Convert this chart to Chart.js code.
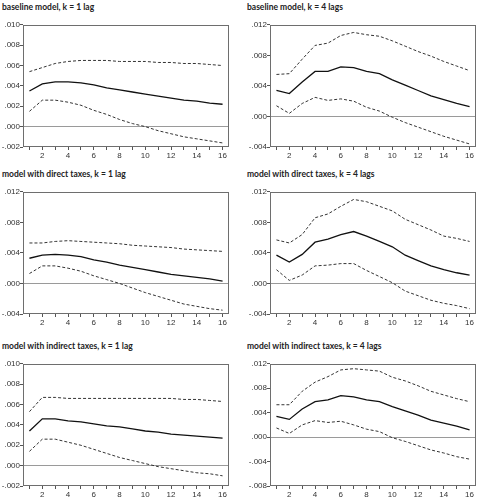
<!DOCTYPE html>
<html>
<head>
<meta charset="utf-8">
<script src="https://cdn.jsdelivr.net/npm/chart.js@4"></script>
<style>
  body { margin: 0; background: #fff; }
  #wrap { position: relative; width: 477px; height: 500px; overflow: hidden; }
  canvas { position: absolute; }
  .ttl { position: absolute; font-family: Lato, 'Liberation Sans', sans-serif; font-weight: bold; font-size: 8.5px; line-height: 10px; color: #222; white-space: nowrap; }
</style>
</head>
<body>
<div id="wrap">
  <div class="ttl" style="left:2px;top:2px">baseline model, k = 1 lag</div>
  <div class="ttl" style="left:247px;top:2px">baseline model, k = 4 lags</div>
  <div class="ttl" style="left:2px;top:169px">model with direct taxes, k = 1 lag</div>
  <div class="ttl" style="left:247px;top:169px">model with direct taxes, k = 4 lags</div>
  <div class="ttl" style="left:2px;top:341px">model with indirect taxes, k = 1 lag</div>
  <div class="ttl" style="left:247px;top:341px">model with indirect taxes, k = 4 lags</div>
  <canvas id="c1" width="232" height="143" style="left:0;top:20px"></canvas>
  <canvas id="c2" width="233" height="143" style="left:244px;top:20px"></canvas>
  <canvas id="c3" width="232" height="143" style="left:0;top:187px"></canvas>
  <canvas id="c4" width="233" height="143" style="left:244px;top:187px"></canvas>
  <canvas id="c5" width="232" height="143" style="left:0;top:359px"></canvas>
  <canvas id="c6" width="233" height="143" style="left:244px;top:359px"></canvas>
</div>
<script>
// horizon (periods) and which of them get a label
const horizon = [1,2,3,4,5,6,7,8,9,10,11,12,13,14,15,16];
const xLabelled = [2,4,6,8,10,12,14,16];

// y tick labels per panel
const yTicksA = [-0.002, 0, 0.002, 0.004, 0.006, 0.008, 0.010];
const yTicksB = [-0.004, 0, 0.004, 0.008, 0.012];
const yTicksC = [-0.008, -0.004, 0, 0.004, 0.008, 0.012];

// baseline model, k = 1 lag
const base1Up  = [.0054,.0058,.0062,.0064,.0065,.0065,.0065,.0064,.0064,.0064,.0063,.0063,.0062,.0062,.0061,.0060];
const base1Irf = [.0035,.0042,.0044,.0044,.0043,.0041,.0038,.0036,.0034,.0032,.0030,.0028,.0026,.0025,.0023,.0022];
const base1Lo  = [.0015,.0026,.0026,.0024,.0021,.0016,.0012,.0007,.0003,.0000,-.0004,-.0007,-.0010,-.0012,-.0014,-.0016];

// baseline model, k = 4 lags
const base4Up  = [.0055,.0056,.0075,.0093,.0096,.0106,.0110,.0107,.0105,.0099,.0092,.0085,.0079,.0072,.0066,.0060];
const base4Irf = [.0034,.0030,.0045,.0059,.0059,.0065,.0064,.0059,.0056,.0048,.0041,.0034,.0027,.0022,.0017,.0013];
const base4Lo  = [.0014,.0004,.0017,.0025,.0021,.0023,.0020,.0012,.0007,-.0001,-.0008,-.0014,-.0020,-.0026,-.0031,-.0036];

// model with direct taxes, k = 1 lag
const dir1Up  = [.0053,.0053,.0055,.0056,.0055,.0054,.0053,.0052,.0050,.0049,.0048,.0047,.0045,.0044,.0043,.0042];
const dir1Irf = [.0033,.0037,.0038,.0037,.0035,.0031,.0028,.0024,.0021,.0018,.0015,.0012,.0010,.0008,.0006,.0003];
const dir1Lo  = [.0013,.0023,.0023,.0020,.0016,.0010,.0005,.0000,-.0006,-.0012,-.0017,-.0022,-.0027,-.0030,-.0033,-.0035];

// model with direct taxes, k = 4 lags
const dir4Up  = [.0057,.0053,.0064,.0086,.0091,.0101,.0110,.0107,.0101,.0095,.0084,.0077,.0070,.0062,.0059,.0055];
const dir4Irf = [.0037,.0028,.0038,.0054,.0058,.0064,.0068,.0062,.0055,.0048,.0037,.0030,.0023,.0018,.0014,.0011];
const dir4Lo  = [.0018,.0004,.0011,.0023,.0024,.0026,.0026,.0017,.0009,.0001,-.0010,-.0016,-.0022,-.0026,-.0029,-.0033];

// model with indirect taxes, k = 1 lag
const ind1Up  = [.0053,.0067,.0067,.0066,.0066,.0066,.0066,.0066,.0066,.0066,.0066,.0066,.0065,.0065,.0064,.0063];
const ind1Irf = [.0034,.0046,.0046,.0044,.0043,.0041,.0039,.0038,.0036,.0034,.0033,.0031,.0030,.0029,.0028,.0027];
const ind1Lo  = [.0014,.0026,.0026,.0023,.0020,.0016,.0012,.0008,.0005,.0002,-.0001,-.0003,-.0005,-.0007,-.0008,-.0010];

// model with indirect taxes, k = 4 lags
const ind4Up  = [.0053,.0053,.0075,.0090,.0099,.0110,.0112,.0110,.0108,.0098,.0092,.0084,.0075,.0069,.0063,.0058];
const ind4Irf = [.0034,.0029,.0046,.0058,.0061,.0068,.0066,.0061,.0058,.0050,.0043,.0036,.0028,.0023,.0018,.0012];
const ind4Lo  = [.0015,.0006,.0020,.0027,.0024,.0026,.0020,.0013,.0009,-.0001,-.0007,-.0014,-.0021,-.0026,-.0032,-.0036];

const frame = {
  id: 'frame',
  afterDatasetsDraw(chart) {
    const a = chart.chartArea, ctx = chart.ctx;
    ctx.save();
    ctx.strokeStyle = '#6e6e6e';
    ctx.lineWidth = 1;
    ctx.strokeRect(Math.round(a.left) + 0.5, Math.round(a.top) + 0.5,
                   Math.round(a.right - a.left) - 1, Math.round(a.bottom - a.top) - 1);
    ctx.restore();
  }
};

function panel(id, up, irf, lo, yTicks, yWidth, padRight) {
  const band = (d) => ({ data: d, borderColor: '#333', borderWidth: 1, borderDash: [3, 2],
                         pointRadius: 0, tension: 0, fill: false });
  new Chart(document.getElementById(id), {
    type: 'line',
    data: {
      labels: horizon,
      datasets: [
        band(up),
        { data: irf, borderColor: '#111', borderWidth: 1.3, pointRadius: 0, tension: 0, fill: false },
        band(lo)
      ]
    },
    options: {
      responsive: false,
      animation: false,
      layout: { padding: { top: 4, right: padRight, left: 0, bottom: 0 } },
      plugins: { legend: { display: false }, tooltip: { enabled: false } },
      scales: {
        x: {
          type: 'category',
          offset: true,
          border: { display: false },
          grid: { drawOnChartArea: false, drawTicks: true, tickLength: 3, tickColor: '#555', offset: false },
          ticks: {
            autoSkip: false, maxRotation: 0, padding: 1, color: '#333',
            font: { family: "'Liberation Sans', Arial, sans-serif", size: 8 },
            callback: function(v) { const h = horizon[v]; return xLabelled.includes(h) ? String(h) : ''; }
          },
          afterFit(s) { s.height = 16; }
        },
        y: {
          min: yTicks[0], max: yTicks[yTicks.length - 1],
          border: { display: false },
          afterBuildTicks(s) { s.ticks = yTicks.map(v => ({ value: v })); },
          grid: {
            drawTicks: true, tickLength: 3, tickColor: '#555',
            color: (c) => (c.tick && Math.abs(c.tick.value) < 1e-9) ? '#9a9a9a' : 'rgba(0,0,0,0)'
          },
          ticks: {
            padding: 0, color: '#333',
            font: { family: "'Liberation Sans', Arial, sans-serif", size: 8 },
            callback: (v) => v.toFixed(3).replace('0.', '.')
          },
          afterFit(s) { s.width = yWidth; }
        }
      }
    },
    plugins: [frame]
  });
}

panel('c1', base1Up, base1Irf, base1Lo, yTicksA, 23, 3);
panel('c2', base4Up, base4Irf, base4Lo, yTicksB, 26, 1);
panel('c3', dir1Up, dir1Irf, dir1Lo, yTicksB, 23, 3);
panel('c4', dir4Up, dir4Irf, dir4Lo, yTicksB, 26, 1);
panel('c5', ind1Up, ind1Irf, ind1Lo, yTicksA, 23, 3);
panel('c6', ind4Up, ind4Irf, ind4Lo, yTicksC, 26, 1);
</script>
</body>
</html>
